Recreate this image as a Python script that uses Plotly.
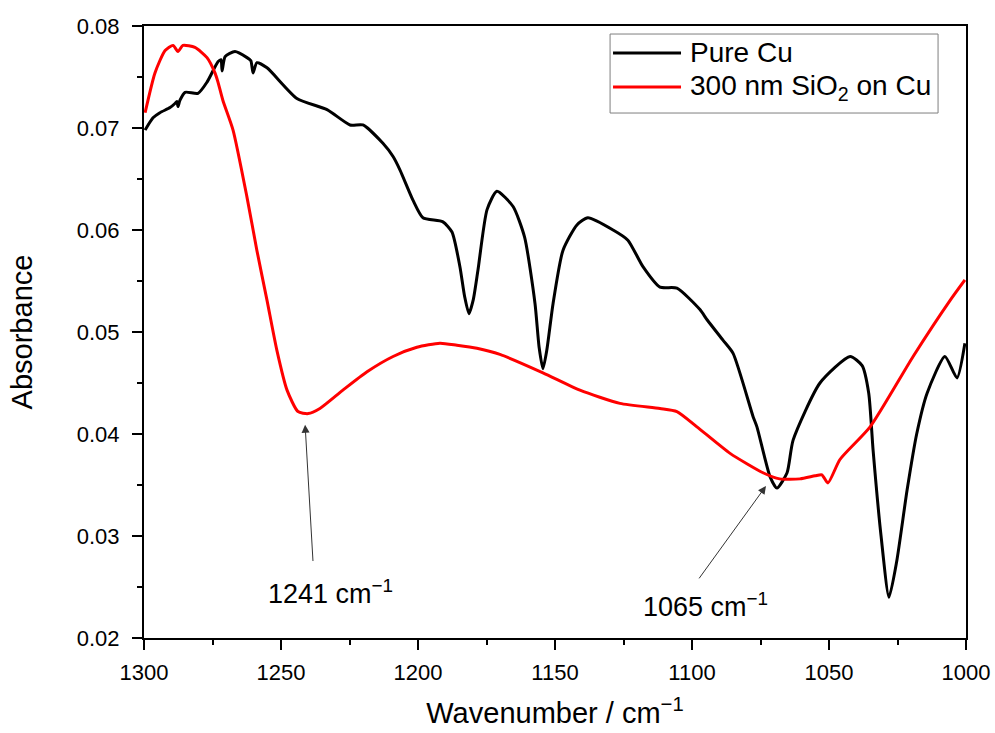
import plotly.graph_objects as go

# Pure Cu spectrum (wavenumber / cm^-1, absorbance)
cu_wn = [1299.6, 1296.7, 1294.2, 1290.5, 1288.7, 1288.0, 1287.6, 1286.9, 1285.0, 1280.3,
         1277.0, 1273.0, 1271.9, 1271.5, 1270.4, 1266.8, 1262.4, 1261.0, 1260.2, 1258.8,
         1255.1, 1244.2, 1233.2, 1224.8, 1220.1, 1212.8, 1209.1, 1206.6, 1201.8, 1198.2,
         1190.9, 1187.6, 1184.7, 1183.0, 1181.4, 1179.8, 1178.1, 1174.8, 1171.2, 1165.3,
         1161.1, 1157.3, 1155.8, 1154.4, 1153.0, 1150.7, 1147.1, 1142.0, 1138.0, 1128.8,
         1123.4, 1117.9, 1111.7, 1105.5, 1097.1, 1094.5, 1088.7, 1085.0, 1077.7, 1076.3,
         1071.5, 1069.0, 1065.3, 1063.1, 1053.3, 1042.3, 1037.9, 1035.5, 1033.9, 1031.0,
         1028.1, 1025.3, 1021.5, 1018.0, 1014.2, 1007.7, 1003.3, 1000.4]
cu_abs = [0.0698, 0.0710, 0.0715, 0.0720, 0.0724, 0.0726, 0.0721, 0.0727, 0.0735, 0.0734,
          0.0745, 0.0765, 0.0767, 0.0756, 0.0770, 0.0775, 0.0769, 0.0766, 0.0754, 0.0764,
          0.0759, 0.0729, 0.0718, 0.0703, 0.0703, 0.0685, 0.0672, 0.0659, 0.0629, 0.0612,
          0.0608, 0.0598, 0.0564, 0.0535, 0.0518, 0.0532, 0.0561, 0.0620, 0.0638, 0.0623,
          0.0593, 0.0528, 0.0485, 0.0464, 0.0482, 0.0528, 0.0580, 0.0605, 0.0612, 0.0600,
          0.0590, 0.0564, 0.0544, 0.0543, 0.0522, 0.0512, 0.0492, 0.0479, 0.0417, 0.0407,
          0.0358, 0.0347, 0.0362, 0.0394, 0.0450, 0.0476, 0.0467, 0.0440, 0.0384, 0.0300,
          0.0240, 0.0275, 0.0345, 0.0400, 0.0440, 0.0476, 0.0455, 0.0489]

# 300 nm SiO2 on Cu spectrum
sio2_wn = [1299.6, 1296.0, 1292.3, 1289.4, 1287.6, 1285.8, 1281.4, 1277.0, 1274.1, 1273.0,
           1271.2, 1267.5, 1262.4, 1258.8, 1255.1, 1251.5, 1247.8, 1243.8, 1240.1, 1235.8,
           1227.4, 1218.6, 1209.1, 1200.4, 1192.0, 1185.8, 1178.5, 1170.1, 1154.4, 1140.9,
           1126.3, 1111.7, 1105.5, 1098.2, 1086.1, 1074.1, 1068.0, 1060.6, 1055.1, 1052.6,
           1050.4, 1046.0, 1035.0, 1019.3, 1005.8, 1000.4]
sio2_abs = [0.0715, 0.0754, 0.0776, 0.0781, 0.0775, 0.0781, 0.0779, 0.0769, 0.0754, 0.0745,
            0.0727, 0.0698, 0.0632, 0.0580, 0.0531, 0.0482, 0.0443, 0.0422, 0.0420, 0.0425,
            0.0443, 0.0461, 0.0476, 0.0485, 0.0489, 0.0487, 0.0484, 0.0478, 0.0460, 0.0443,
            0.0430, 0.0425, 0.0422, 0.0407, 0.0381, 0.0362, 0.0356, 0.0356, 0.0359, 0.0360,
            0.0352, 0.0375, 0.0407, 0.0476, 0.0531, 0.0551]

series_names = ["Pure Cu", "300 nm SiO<sub>2</sub> on Cu"]
series_colors = ["black", "#ff0000"]

x_ticks = [1300, 1250, 1200, 1150, 1100, 1050, 1000]
y_ticks = [0.02, 0.03, 0.04, 0.05, 0.06, 0.07, 0.08]

# annotations: (label, arrow head x, y, arrow tail x, y, text x, y)
notes = [
    ("1241 cm<sup>−1</sup>", 1241.2, 0.0409, 1238.3, 0.0274, 1232.1, 0.0245),
    ("1065 cm<sup>−1</sup>", 1073.0, 0.0349, 1097.8, 0.0257, 1094.9, 0.0232),
]

FONT = "Liberation Sans, Arial, sans-serif"

fig = go.Figure()
for wn, ab, name, col in [(cu_wn, cu_abs, series_names[0], series_colors[0]),
                          (sio2_wn, sio2_abs, series_names[1], series_colors[1])]:
    fig.add_trace(go.Scatter(x=wn, y=ab, mode="lines", name=name, showlegend=False,
                             line=dict(color=col, width=3, shape="spline", smoothing=0.6)))

for label, hx, hy, tx, ty, lx, ly in notes:
    fig.add_annotation(x=hx, y=hy, ax=tx, ay=ty, axref="x", ayref="y", xref="x", yref="y",
                       text="", showarrow=True, arrowhead=2, arrowsize=1.6, arrowwidth=1,
                       arrowcolor="#333333")
    fig.add_annotation(x=lx, y=ly, xref="x", yref="y", text=label, showarrow=False,
                       font=dict(family=FONT, size=27, color="black"))

# legend drawn in paper coordinates (box, sample lines, labels)
fig.add_shape(type="rect", xref="paper", yref="paper", x0=0.567, x1=0.966, y0=0.8578, y1=0.9869,
              line=dict(color="#7f7f7f", width=1), fillcolor="rgba(255,255,255,0)")
for i, (name, col) in enumerate(zip(series_names, series_colors)):
    yy = 0.9559 - i * 0.0556
    fig.add_shape(type="line", xref="paper", yref="paper", x0=0.5706, x1=0.6533, y0=yy, y1=yy,
                  line=dict(color=col, width=3))
    fig.add_annotation(x=0.6618, y=yy, xref="paper", yref="paper", text=name, showarrow=False,
                       xanchor="left", yanchor="middle",
                       font=dict(family=FONT, size=28, color="black"))

fig.update_layout(
    template="none",
    width=995, height=733,
    margin=dict(l=144, r=29, t=26, b=95, autoexpand=False),
    paper_bgcolor="white", plot_bgcolor="white",
    font=dict(family=FONT, size=22, color="black"),
    showlegend=False,
)
fig.update_xaxes(range=[1300, 1000], tickvals=x_ticks, ticks="outside", ticklen=10, tickwidth=2,
                 tickcolor="black", showline=True, linecolor="black", linewidth=2, mirror=True,
                 showgrid=False, zeroline=False, tickfont=dict(size=22), ticklabelstandoff=4,
                 automargin=False,
                 minor=dict(dtick=25, ticks="outside", ticklen=5, tickwidth=2, tickcolor="black"),
                 title=dict(text="Wavenumber / cm<sup>−1</sup>", font=dict(size=29), standoff=18))
fig.update_yaxes(range=[0.02, 0.08], tickvals=y_ticks, tickformat=".2f", ticks="outside",
                 ticklen=10, tickwidth=2, tickcolor="black", showline=True, linecolor="black",
                 linewidth=2, mirror=True, showgrid=False, zeroline=False, tickfont=dict(size=22),
                 ticklabelstandoff=8, automargin=False,
                 minor=dict(dtick=0.005, ticks="outside", ticklen=5, tickwidth=2, tickcolor="black"),
                 title=dict(text="Absorbance", font=dict(size=29), standoff=36))

post = (
    "document.documentElement.style.margin='0';"
    "document.documentElement.style.overflow='hidden';"
    "document.body.style.margin='0';"
    "document.body.style.overflow='hidden';"
)
fig.write_html("out.html", config={"displayModeBar": False}, post_script=post)
